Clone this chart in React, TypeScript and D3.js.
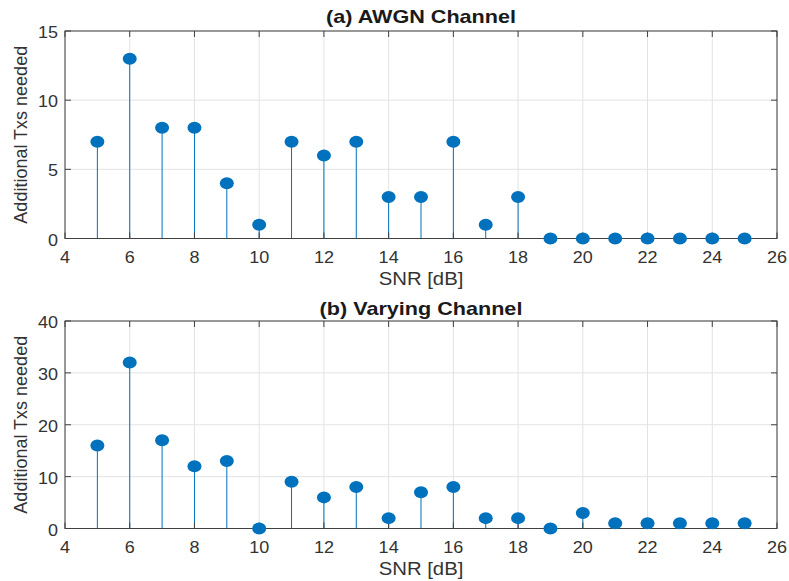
import React from "react";
import * as d3 from "d3";

const snr = [5, 6, 7, 8, 9, 10, 11, 12, 13, 14, 15, 16, 17, 18, 19, 20, 21, 22, 23, 24, 25];
const awgnValues = [7, 13, 8, 8, 4, 1, 7, 6, 7, 3, 3, 7, 1, 3, 0, 0, 0, 0, 0, 0, 0];
const varyingValues = [16, 32, 17, 12, 13, 0, 9, 6, 8, 2, 7, 8, 2, 2, 0, 3, 1, 1, 1, 1, 1];
const xTicks = [4, 6, 8, 10, 12, 14, 16, 18, 20, 22, 24, 26];
const awgnYTicks = [0, 5, 10, 15];
const varyingYTicks = [0, 10, 20, 30, 40];
const titles = ["(a) AWGN Channel", "(b) Varying Channel"];
const xLabel = "SNR [dB]";
const yLabel = "Additional Txs needed";

const W = 789;
const H = 581;
const left = 65;
const right = 777;
const FONT = "'Liberation Sans', Arial, Helvetica, sans-serif";
const BLUE = "#0072BD";
const AX = "#404040";

type PanelProps = { top: number; bottom: number; values: number[]; yTicks: number[]; title: string; titleGap: number };

function Panel({ top, bottom, values, yTicks, title, titleGap }: PanelProps) {
  const x = d3.scaleLinear().domain([4, 26]).range([left, right]);
  const y = d3.scaleLinear().domain([yTicks[0], yTicks[yTicks.length - 1]]).range([bottom, top]);
  const tl = 6;
  const cx = (left + right) / 2;
  return (
    <g>
      {xTicks.map((t) => (
        <line key={"gx" + t} x1={x(t)} x2={x(t)} y1={top} y2={bottom} stroke="#e3e3e3" strokeWidth={1} />
      ))}
      {yTicks.map((t) => (
        <line key={"gy" + t} x1={left} x2={right} y1={y(t)} y2={y(t)} stroke="#e3e3e3" strokeWidth={1} />
      ))}
      {snr.map((s, i) => (
        <line key={"st" + s} x1={x(s)} x2={x(s)} y1={y(0)} y2={y(values[i])} stroke={BLUE} strokeWidth={1} />
      ))}
      <rect x={left} y={top} width={right - left} height={bottom - top} fill="none" stroke={AX} strokeWidth={1} />
      {xTicks.map((t) => (
        <g key={"tx" + t}>
          <line x1={x(t)} x2={x(t)} y1={bottom} y2={bottom - tl} stroke={AX} />
          <line x1={x(t)} x2={x(t)} y1={top} y2={top + tl} stroke={AX} />
          <text
            transform={`translate(${x(t)},${bottom + 24.5}) scale(1.06,1)`}
            textAnchor="middle"
            fontSize={17}
            fill="#333"
            fontFamily={FONT}
          >
            {t}
          </text>
        </g>
      ))}
      {yTicks.map((t) => (
        <g key={"ty" + t}>
          <line x1={left} x2={left + tl} y1={y(t)} y2={y(t)} stroke={AX} />
          <line x1={right} x2={right - tl} y1={y(t)} y2={y(t)} stroke={AX} />
          <text
            transform={`translate(${left - 7},${y(t) + 7}) scale(1.06,1)`}
            textAnchor="end"
            fontSize={17}
            fill="#333"
            fontFamily={FONT}
          >
            {t}
          </text>
        </g>
      ))}
      {snr.map((s, i) => (
        <ellipse key={"m" + s} cx={x(s)} cy={y(values[i])} rx={7} ry={6} fill={BLUE} />
      ))}
      <text
        transform={`translate(${cx},${top - titleGap}) scale(1.2,1)`}
        textAnchor="middle"
        fontSize={18}
        fontWeight="bold"
        fill="#1a1a1a"
        fontFamily={FONT}
      >
        {title}
      </text>
      <text
        transform={`translate(${cx},${bottom + 46.5}) scale(1.13,1)`}
        textAnchor="middle"
        fontSize={18}
        fill="#333"
        fontFamily={FONT}
      >
        {xLabel}
      </text>
      <text
        transform={`translate(${27},${(top + bottom) / 2}) rotate(-90)`}
        textAnchor="middle"
        fontSize={18}
        fill="#333"
        fontFamily={FONT}
      >
        {yLabel}
      </text>
    </g>
  );
}

export default function App() {
  return (
    <svg width={W} height={H} style={{ position: "absolute", left: 0, top: 0, background: "#fff" }}>
      <rect width={W} height={H} fill="#fff" />
      <Panel top={31} bottom={238.5} values={awgnValues} yTicks={awgnYTicks} title={titles[0]} titleGap={8} />
      <Panel top={321} bottom={528.5} values={varyingValues} yTicks={varyingYTicks} title={titles[1]} titleGap={6} />
    </svg>
  );
}
